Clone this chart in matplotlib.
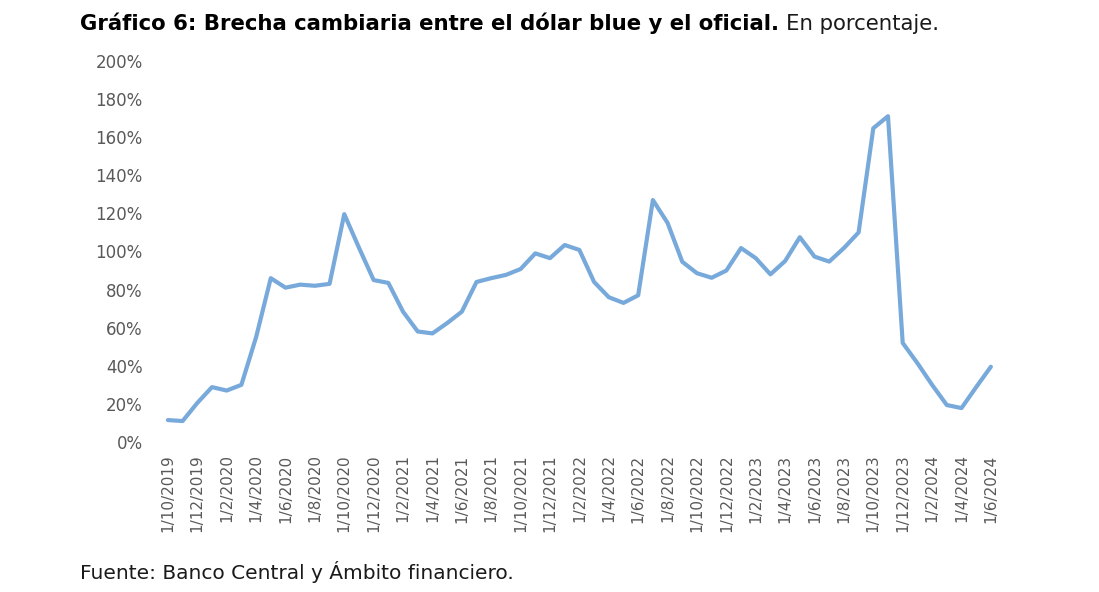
import numpy as np
import matplotlib
matplotlib.use("Agg")
import matplotlib.pyplot as plt

# brecha mensual, oct-2019 a jun-2024
months = ["10/2019", "11/2019", "12/2019", "1/2020", "2/2020", "3/2020", "4/2020",
          "5/2020", "6/2020", "7/2020", "8/2020", "9/2020", "10/2020", "11/2020",
          "12/2020", "1/2021", "2/2021", "3/2021", "4/2021", "5/2021", "6/2021",
          "7/2021", "8/2021", "9/2021", "10/2021", "11/2021", "12/2021", "1/2022",
          "2/2022", "3/2022", "4/2022", "5/2022", "6/2022", "7/2022", "8/2022",
          "9/2022", "10/2022", "11/2022", "12/2022", "1/2023", "2/2023", "3/2023",
          "4/2023", "5/2023", "6/2023", "7/2023", "8/2023", "9/2023", "10/2023",
          "11/2023", "12/2023", "1/2024", "2/2024", "3/2024", "4/2024", "5/2024",
          "6/2024"]
brecha = [11.5, 11.0, 20.5, 28.8, 27.0, 30.0, 55.0, 86.0, 81.0, 82.6,
          82.0, 83.0, 119.6, 102.0, 85.0, 83.5, 68.4, 58.0, 57.0, 62.4,
          68.4, 84.0, 86.0, 87.7, 90.8, 99.0, 96.5, 103.4, 100.8, 84.0,
          76.0, 73.0, 77.0, 127.0, 115.0, 94.6, 88.6, 86.2, 90.0, 101.8,
          96.5, 88.0, 95.0, 107.5, 97.3, 94.7, 101.8, 110.0, 164.7, 171.0,
          52.0, 41.4, 30.0, 19.4, 17.8, 28.8, 39.5]
yticks = [0, 20, 40, 60, 80, 100, 120, 140, 160, 180, 200]

x = np.arange(len(brecha))
tick_pos = x[::2]
tick_lab = ["1/" + m for m in months[::2]]

fig = plt.figure(figsize=(10.99, 5.92), dpi=100)
ax = fig.add_axes([0.1461, 0.2534, 0.7622, 0.6436])

ax.plot(x, brecha, color="#78a9db", lw=3.0, solid_joinstyle="round",
        solid_capstyle="round")

ax.set_xlim(-0.5, len(brecha) - 0.5)
ax.set_ylim(0, 200)
ax.set_yticks(yticks)
ax.set_yticklabels([f"{v}%" for v in yticks])
ax.set_xticks(tick_pos)
ax.set_xticklabels(tick_lab, rotation=90)
ax.tick_params(axis="y", length=0, pad=13, labelsize=12, labelcolor="#595959")
ax.tick_params(axis="x", length=0, pad=9, labelsize=11, labelcolor="#595959")
for s in ax.spines.values():
    s.set_visible(False)

# titulo: parte en negrita + parte normal
t1 = fig.text(80 / 1099, 1 - 30 / 592, "Gráfico 6: Brecha cambiaria entre el dólar blue y el oficial.",
              fontsize=15.3, fontweight="bold", color="black", va="baseline")
fig.canvas.draw()
bb = t1.get_window_extent()
fig.text((bb.x1 + 7) / 1099, 1 - 30 / 592, "En porcentaje.",
         fontsize=15.3, color="#1a1a1a", va="baseline")

fig.text(80 / 1099, 1 - 579 / 592, "Fuente: Banco Central y Ámbito financiero.",
         fontsize=14.5, color="#1a1a1a", va="baseline")

fig.savefig("out.png", dpi=100)
